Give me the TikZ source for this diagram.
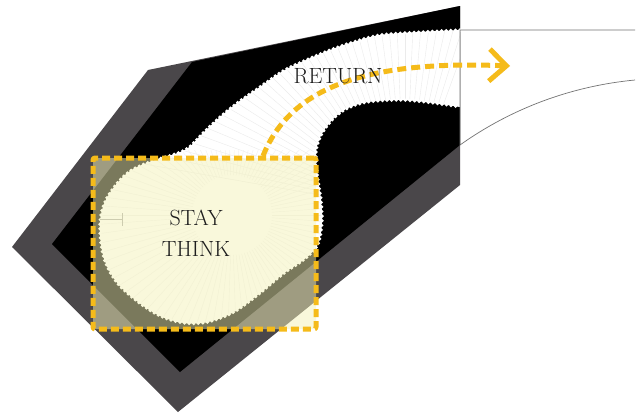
\documentclass[tikz,border=0pt]{standalone}
\usetikzlibrary{arrows.meta}
\definecolor{shadegray}{RGB}{74,71,74}
\definecolor{gold}{RGB}{245,187,26}
\definecolor{cream}{RGB}{244,242,184}
\definecolor{inkdark}{RGB}{30,30,30}
\begin{document}
\begin{tikzpicture}[x=1pt,y=-1pt,
  scallop/.style={white, line width=3.6pt, line cap=round, dash pattern=on 0pt off 4.6pt},
  ray/.style={black!8, line width=0.4pt},
  softray/.style={black!6, line width=0.4pt},
  stayframe/.style={draw=gold, line width=5pt, dash pattern=on 8pt off 4pt, fill=cream, fill opacity=0.5, rounded corners=2pt, line join=round, minimum width=223pt, minimum height=171pt, inner sep=0pt, outer sep=0pt},
  arrowline/.style={draw=gold, line width=5pt, dash pattern=on 9pt off 5pt},
  txt/.style={text=inkdark, font=\fontsize{22}{31}\selectfont, align=center, inner sep=0pt},
  guide/.style={draw=black!55, line width=0.7pt},
  tickmark/.style={draw=black!35, line width=0.6pt}]
\useasboundingbox (0,0) rectangle (643,415);
\fill[white] (0,0) rectangle (643,415);
% extruded block
\fill[shadegray] (148,70) -- (460,6) -- (460,185) -- (178,412) -- (12,247) -- cycle;
\fill[black] (192,62) -- (460,6) -- (460,145) -- (180,372) -- (52,244) -- cycle;
% white band and blob
\fill[white] plot[smooth, tension=0.55] coordinates {(460,30) (420,32) (380,35) (350,43) (330,50) (306,60) (283,71) (257,89) (237,103) (220,117) (203,133) (188,148) (172,155) (152,161) (130,171) (114,187) (104,204) (100,222) (101,244) (106,264) (118,284) (138,302) (160,316) (184,323) (208,322) (234,312) (259,294) (283,274) (306,258) (318,244) (322,222) (321,200) (318,180) (316,160) (317,146) (323,132) (334,118) (348,108) (368,102) (400,100) (433,103) (460,107)} -- cycle;
\begin{scope}
\clip plot[smooth, tension=0.55] coordinates {(460,30) (420,32) (380,35) (350,43) (330,50) (306,60) (283,71) (257,89) (237,103) (220,117) (203,133) (188,148) (172,155) (152,161) (130,171) (114,187) (104,204) (100,222) (101,244) (106,264) (118,284) (138,302) (160,316) (184,323) (208,322) (234,312) (259,294) (283,274) (306,258) (318,244) (322,222) (321,200) (318,180) (316,160) (317,146) (323,132) (334,118) (348,108) (368,102) (400,100) (433,103) (460,107)} -- cycle;
\foreach \a in {190,192.5,...,292} \draw[ray] (405,210) ++(\a:80) -- ++(\a:220);
\begin{scope}
\clip (90,150) rectangle (330,335);
\foreach \a in {0,4,...,356} \draw[softray] (232,215) ++(\a:40) -- ++(\a:160);
\end{scope}
\end{scope}
\draw[scallop] plot[smooth, tension=0.55] coordinates {(460,30) (420,32) (380,35) (350,43) (330,50) (306,60) (283,71) (257,89) (237,103) (220,117) (203,133) (188,148) (172,155) (152,161) (130,171) (114,187) (104,204) (100,222) (101,244) (106,264) (118,284) (138,302) (160,316) (184,323) (208,322) (234,312) (259,294) (283,274) (306,258) (318,244) (322,222) (321,200) (318,180) (316,160) (317,146) (323,132) (334,118) (348,108) (368,102) (400,100) (433,103) (460,107)};
% small tick mark
\draw[tickmark] (100,219) -- (122,219) (122,213) -- (122,226);
% guide lines on the right
\coordinate (g1) at (460,30);
\coordinate (g2) at (635,30);
\coordinate (g3) at (460,145);
\coordinate (g4) at (635,80);
\draw[guide] (g2) -- (g1) -- (g3) .. controls (512,108) and (572,86) .. (g4);
% translucent dashed frame
\node[stayframe] (frame) at (204.5,243.5) {};
% arrow
\coordinate (arrS) at (263,156);
\coordinate (arrE) at (510,66);
\draw[arrowline, -{Straight Barb[length=17pt,width=32pt]}] (arrS) .. controls (290,88) and (365,60) .. (arrE);
% texts
\node[txt] (ret) at (338,76) {RETURN};
\node[txt] (stay) at (196,233) {STAY\\THINK};
\end{tikzpicture}
\end{document}
